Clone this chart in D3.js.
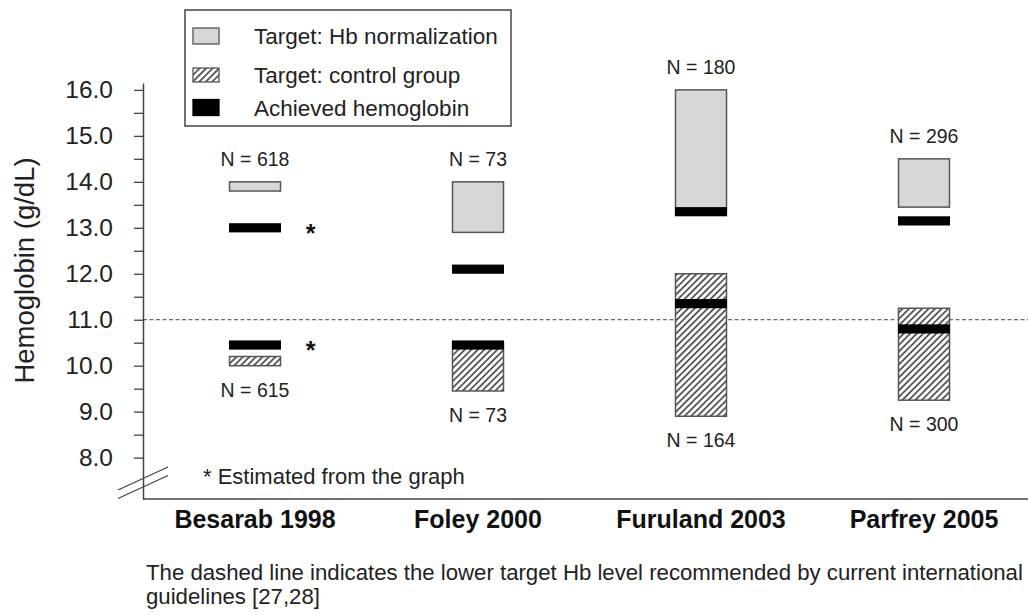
<!DOCTYPE html>
<html>
<head>
<meta charset="utf-8">
<script src="https://cdn.jsdelivr.net/npm/d3@7"></script>
<style>
  html, body { margin: 0; padding: 0; background: #fff; }
  svg { display: block; font-family: "Liberation Sans", Arial, Helvetica, sans-serif; }
</style>
</head>
<body>
<svg id="chart" width="1028" height="615"></svg>
<script>
// ---------------- data ----------------
const studies   = ["Besarab 1998", "Foley 2000", "Furuland 2003", "Parfrey 2005"];
const normLow   = [13.8, 12.9, 13.3, 13.45];   // target: Hb normalization (range)
const normHigh  = [14.0, 14.0, 16.0, 14.5];
const ctrlLow   = [10.0, 9.45, 8.9, 9.25];     // target: control group (range)
const ctrlHigh  = [10.2, 10.5, 12.0, 11.25];
const achNorm   = [13.0, 12.1, 13.35, 13.15];  // achieved Hb, normalization arm
const achCtrl   = [10.45, 10.45, 11.35, 10.8]; // achieved Hb, control arm
const nNorm     = [618, 73, 180, 296];
const nCtrl     = [615, 73, 164, 300];
const estimated = [true, false, false, false];
const majorTicks = [8, 9, 10, 11, 12, 13, 14, 15, 16];
const minorTicks = [8.5, 9.5, 10.5, 11.5, 12.5, 13.5, 14.5, 15.5];
const guideline = 11.0;
const legendLabels = ["Target: Hb normalization", "Target: control group", "Achieved hemoglobin"];
const footnote = ["The dashed line indicates the lower target Hb level recommended by current international",
                  "guidelines [27,28]"];
const estNote = "* Estimated from the graph";

// ---------------- layout ----------------
const svg = d3.select("#chart");
const axisX = 143, axisBottom = 499, axisTop = 83;
const ink = "#222", lineCol = "#444";
const fillGrey = "#d7d7d7";
const barW = 51, achThick = 0.2;

const y = d3.scaleLinear().domain([7.1, 16.15]).range([axisBottom, axisTop]);
const x = d3.scalePoint().domain(studies).range([255, 924]);

// hatch pattern
const defs = svg.append("defs");
const pat = defs.append("pattern").attr("id", "hatch")
  .attr("patternUnits", "userSpaceOnUse").attr("width", 4.6).attr("height", 4.6)
  .attr("patternTransform", "rotate(45)");
pat.append("rect").attr("width", 4.6).attr("height", 4.6).attr("fill", "#fff");
pat.append("line").attr("x1", 0.9).attr("y1", 0).attr("x2", 0.9).attr("y2", 4.6)
  .attr("stroke", "#555").attr("stroke-width", 1.8);

// dashed guideline
svg.append("line")
  .attr("x1", axisX).attr("x2", 1028).attr("y1", y(guideline)).attr("y2", y(guideline))
  .attr("stroke", lineCol).attr("stroke-width", 1).attr("stroke-dasharray", "4,2.5");

// y axis
const yAxis = d3.axisLeft(y)
  .tickValues(majorTicks.concat(minorTicks))
  .tickSize(9).tickSizeOuter(0).tickPadding(21)
  .tickFormat(d => majorTicks.includes(d) ? d.toFixed(1) : "");
const gy = svg.append("g").attr("transform", `translate(${axisX},0)`).call(yAxis);
gy.select(".domain").attr("stroke", lineCol).attr("stroke-width", 1.5);
gy.selectAll(".tick line").attr("stroke", lineCol).attr("stroke-width", 1.3);
gy.selectAll(".tick text").attr("fill", ink).style("font-size", "24.5px");

// x axis line
svg.append("line").attr("x1", axisX).attr("x2", 1028).attr("y1", axisBottom).attr("y2", axisBottom)
  .attr("stroke", lineCol).attr("stroke-width", 1.5);

// axis break
[[0], [8.5]].forEach(([dy]) => {
  svg.append("line")
    .attr("x1", axisX - 25).attr("y1", axisBottom - 9 + dy)
    .attr("x2", axisX + 25).attr("y2", axisBottom - 32 + dy)
    .attr("stroke", lineCol).attr("stroke-width", 1.3);
});

// y label
svg.append("text")
  .attr("transform", `translate(34,${(158 + 383) / 2}) rotate(-90)`)
  .attr("text-anchor", "middle").attr("fill", ink).style("font-size", "27.5px")
  .text("Hemoglobin (g/dL)");

// boxes
const idx = d3.range(studies.length);
const g = svg.append("g");
// normalization target
g.selectAll("rect.norm").data(idx).join("rect").attr("class", "norm")
  .attr("x", i => x(studies[i]) - barW / 2).attr("width", barW)
  .attr("y", i => y(normHigh[i])).attr("height", i => y(normLow[i]) - y(normHigh[i]))
  .attr("fill", fillGrey).attr("stroke", "#555").attr("stroke-width", 1.5);
// control target
g.selectAll("rect.ctrl").data(idx).join("rect").attr("class", "ctrl")
  .attr("x", i => x(studies[i]) - barW / 2).attr("width", barW)
  .attr("y", i => y(ctrlHigh[i])).attr("height", i => y(ctrlLow[i]) - y(ctrlHigh[i]))
  .attr("fill", "url(#hatch)").attr("stroke", "#555").attr("stroke-width", 1.5);
// achieved
[achNorm, achCtrl].forEach((arr, k) => {
  g.selectAll("rect.ach" + k).data(idx).join("rect").attr("class", "ach" + k)
    .attr("x", i => x(studies[i]) - barW / 2 - 0.5).attr("width", barW + 1)
    .attr("y", i => y(arr[i] + achThick / 2)).attr("height", i => y(arr[i] - achThick / 2) - y(arr[i] + achThick / 2))
    .attr("fill", "#000");
});

// N labels
g.selectAll("text.nn").data(idx).join("text").attr("class", "nn")
  .attr("x", i => x(studies[i])).attr("y", i => y(normHigh[i]) - 16)
  .attr("text-anchor", "middle").attr("fill", ink).style("font-size", "19.5px")
  .text(i => "N = " + nNorm[i]);
g.selectAll("text.nc").data(idx).join("text").attr("class", "nc")
  .attr("x", i => x(studies[i])).attr("y", i => y(ctrlLow[i]) + 31)
  .attr("text-anchor", "middle").attr("fill", ink).style("font-size", "19.5px")
  .text(i => "N = " + nCtrl[i]);

// asterisks
idx.filter(i => estimated[i]).forEach(i => {
  [achNorm[i], achCtrl[i]].forEach(v => {
    svg.append("text").attr("x", x(studies[i]) + barW / 2 + 30).attr("y", y(v) + 14)
      .attr("text-anchor", "middle").attr("fill", "#111")
      .style("font-size", "25px").style("font-weight", "bold").text("*");
  });
});

// category labels
svg.selectAll("text.cat").data(studies).join("text").attr("class", "cat")
  .attr("x", d => x(d)).attr("y", 528).attr("text-anchor", "middle")
  .attr("fill", "#111").style("font-size", "25px").style("font-weight", "bold")
  .text(d => d);

// estimated note
svg.append("text").attr("x", 203).attr("y", 484).attr("fill", ink).style("font-size", "22px").text(estNote);

// footnote
svg.selectAll("text.foot").data(footnote).join("text").attr("class", "foot")
  .attr("x", 146).attr("y", (d, i) => 580 + i * 24)
  .attr("fill", ink).style("font-size", "22.2px").text(d => d);

// legend
const lg = svg.append("g");
lg.append("rect").attr("x", 185).attr("y", 10).attr("width", 326).attr("height", 116)
  .attr("fill", "#fff").attr("stroke", lineCol).attr("stroke-width", 1.5);
const rowCy = [36, 75, 107.5];
const swFill = [fillGrey, "url(#hatch)", "#000"];
const swH = [16, 14, 16];
legendLabels.forEach((lab, i) => {
  lg.append("rect").attr("x", 193).attr("y", rowCy[i] - swH[i] / 2).attr("width", 26).attr("height", swH[i])
    .attr("fill", swFill[i]).attr("stroke", i === 2 ? "#000" : "#555").attr("stroke-width", 1.3);
  lg.append("text").attr("x", 254).attr("y", rowCy[i] + 8).attr("fill", ink)
    .style("font-size", "22.5px").text(lab);
});
</script>
</body>
</html>
